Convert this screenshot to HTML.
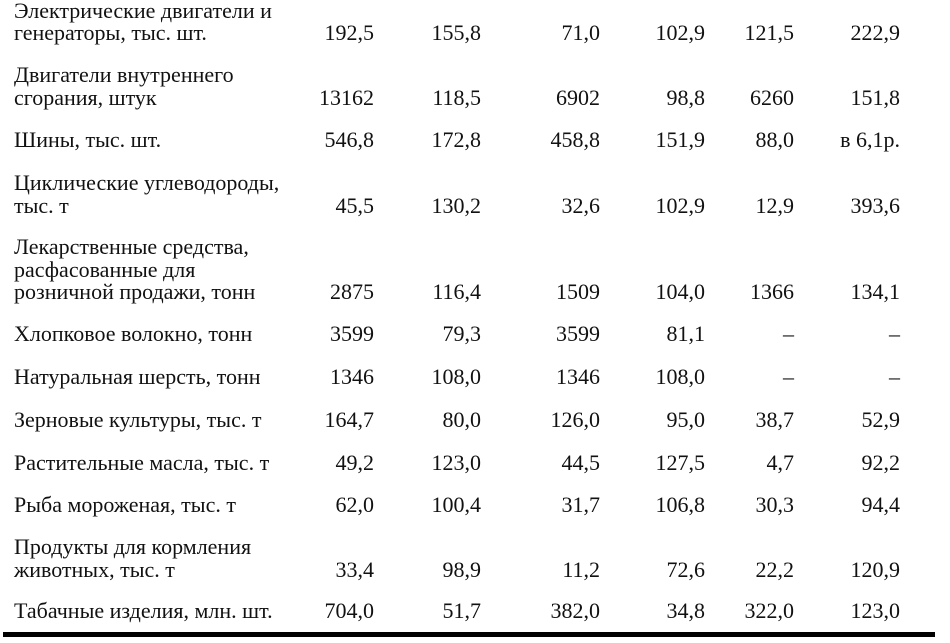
<!DOCTYPE html>
<html><head><meta charset="utf-8"><style>
body{margin:0;width:950px;height:643px;background:#fff;position:relative;overflow:hidden;font-family:"Liberation Serif","DejaVu Serif",serif;font-size:22px;color:#111}
.l{position:absolute;left:14px;white-space:nowrap;line-height:22px}
.n{position:absolute;white-space:nowrap;line-height:22px;text-align:right;width:120px}
.bar{position:absolute;left:3px;top:632px;width:932px;height:5px;background:#000}
</style></head><body>
<div class="l" style="top:0px">Электрические двигатели и</div>
<div class="l" style="top:22px">генераторы, тыс. шт.</div>
<div class="l" style="top:64px">Двигатели внутреннего</div>
<div class="l" style="top:87px">сгорания, штук</div>
<div class="l" style="top:129px">Шины, тыс. шт.</div>
<div class="l" style="top:172px">Циклические углеводороды,</div>
<div class="l" style="top:195px">тыс. т</div>
<div class="l" style="top:236px">Лекарственные средства,</div>
<div class="l" style="top:259px">расфасованные для</div>
<div class="l" style="top:281px">розничной продажи, тонн</div>
<div class="l" style="top:323px">Хлопковое волокно, тонн</div>
<div class="l" style="top:366px">Натуральная шерсть, тонн</div>
<div class="l" style="top:409px">Зерновые культуры, тыс. т</div>
<div class="l" style="top:452px">Растительные масла, тыс. т</div>
<div class="l" style="top:494px">Рыба мороженая, тыс. т</div>
<div class="l" style="top:536px">Продукты для кормления</div>
<div class="l" style="top:559px">животных, тыс. т</div>
<div class="l" style="top:600px">Табачные изделия, млн. шт.</div>
<div id="nums"></div>
<div class="bar"></div>
<script>
var rows=[[22,["192,5","155,8","71,0","102,9","121,5","222,9"]],
[87,["13162","118,5","6902","98,8","6260","151,8"]],
[129,["546,8","172,8","458,8","151,9","88,0","в 6,1р."]],
[195,["45,5","130,2","32,6","102,9","12,9","393,6"]],
[281,["2875","116,4","1509","104,0","1366","134,1"]],
[323,["3599","79,3","3599","81,1","–","–"]],
[366,["1346","108,0","1346","108,0","–","–"]],
[409,["164,7","80,0","126,0","95,0","38,7","52,9"]],
[452,["49,2","123,0","44,5","127,5","4,7","92,2"]],
[494,["62,0","100,4","31,7","106,8","30,3","94,4"]],
[559,["33,4","98,9","11,2","72,6","22,2","120,9"]],
[600,["704,0","51,7","382,0","34,8","322,0","123,0"]]];
var rx=[374,481,600,705,794,900],h="";
rows.forEach(function(r){r[1].forEach(function(v,i){h+='<div class="n" style="top:'+r[0]+'px;left:'+(rx[i]-120)+'px">'+v+'</div>';});});
document.getElementById("nums").innerHTML=h;
</script>
</body></html>
